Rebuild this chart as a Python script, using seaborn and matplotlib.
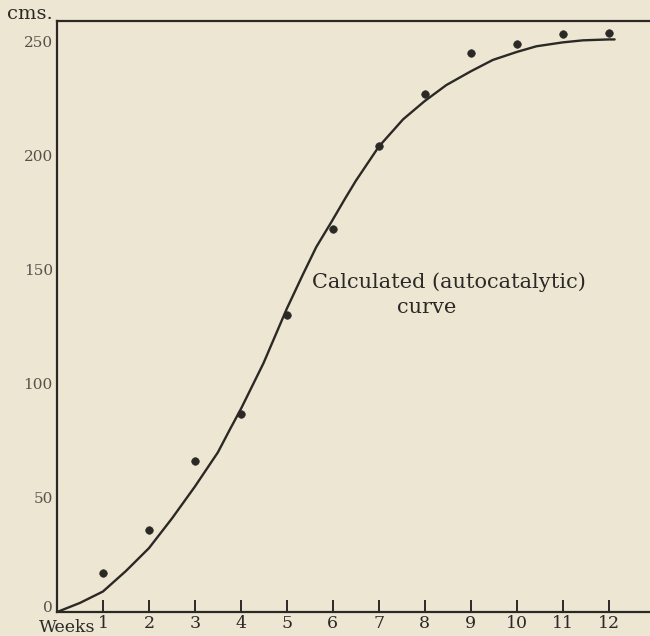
import matplotlib
matplotlib.use("Agg")
import matplotlib.pyplot as plt
import matplotlib.transforms as mtransforms
import pandas as pd
import seaborn as sns

# observed heights (cms) at each week
weeks = [1, 2, 3, 4, 5, 6, 7, 8, 9, 10, 11, 12]
heights = [17, 36, 66, 87, 130, 168, 204.5, 227, 245, 249, 253.4, 254]

# calculated (autocatalytic) curve
curve_weeks = [0, 0.5, 1, 1.5, 2, 2.5, 3, 3.5, 3.76, 4, 4.49, 5, 5.35, 5.64,
               5.97, 6.26, 6.5, 6.8, 7, 7.53, 8, 8.47, 9, 9.48, 10, 10.43,
               11, 11.44, 12, 12.13]
curve_heights = [0, 4, 9, 18, 28, 41, 55, 70, 80, 89, 109, 133, 148, 160,
                 171, 181, 189, 198, 204, 216, 224, 231, 237, 242, 245.5, 248,
                 249.7, 250.6, 251, 251]

x_ticks = list(range(1, 13))
y_ticks = [0, 50, 100, 150, 200, 250]

paper = "#ede6d2"
ink = "#2b2926"

sns.set_theme(style="white")
plt.rcParams['font.family'] = ['DejaVu Serif']

obs = pd.DataFrame({"week": weeks, "height": heights})
calc = pd.DataFrame({"week": curve_weeks, "height": curve_heights})

fig = plt.figure(figsize=(6.5, 6.36), dpi=100, facecolor=paper)
ax = fig.add_axes([0.0877, 0.0377, 0.9123, 0.929])
ax.set_facecolor(paper)

sns.lineplot(x="week", y="height", data=calc, color=ink, linewidth=1.7, ax=ax, sort=False)
sns.scatterplot(x="week", y="height", data=obs, color=ink, s=30, edgecolor=ink, ax=ax, zorder=3)

ax.set_xlim(0, 12.9)
ax.set_ylim(0, 259)
ax.set_xticks(x_ticks)
ax.set_xticklabels([str(t) for t in x_ticks], fontsize=12.5, color=ink)
ax.set_yticks(y_ticks)
ax.set_yticklabels([str(t) for t in y_ticks], fontsize=11, color="#55524c")
# the "0" sits just above the corner, clear of "Weeks"
ax.get_yticklabels()[0].set_va("baseline")
ax.tick_params(axis="x", direction="in", length=9, width=1.4, color=ink, pad=2, bottom=True)
ax.tick_params(axis="y", length=0, pad=3, left=False)
ax.set_xlabel("")
ax.set_ylabel("")

for side in ["left", "top", "bottom"]:
    ax.spines[side].set_color(ink)
    ax.spines[side].set_linewidth(1.6)
ax.spines["right"].set_visible(False)

trans = mtransforms.blended_transform_factory(ax.transData, ax.transAxes)
ax.text(0.83, -0.027, "Weeks", transform=trans, ha="right", va="center",
        fontsize=12.5, color=ink, clip_on=False)
ax.text(-0.1, 262, "cms.", ha="right", va="center", fontsize=14, color=ink, clip_on=False)

ax.text(8.52, 144.7, "Calculated (autocatalytic)", ha="center", va="center",
        fontsize=15, color=ink)
ax.text(8.04, 133.3, "curve", ha="center", va="center", fontsize=15, color=ink)

fig.savefig("out.png", dpi=100, facecolor=paper)
